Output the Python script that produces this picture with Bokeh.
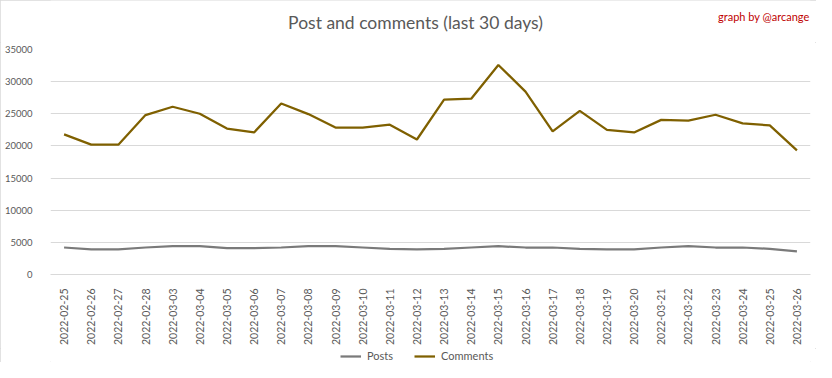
from bokeh.plotting import figure
from bokeh.models import Range1d, FixedTicker, Legend, LegendItem, Label
from bokeh.layouts import column
from bokeh.embed import file_html
from bokeh.resources import INLINE
from math import pi

dates = ["2022-02-25", "2022-02-26", "2022-02-27", "2022-02-28", "2022-03-03",
         "2022-03-04", "2022-03-05", "2022-03-06", "2022-03-07", "2022-03-08",
         "2022-03-09", "2022-03-10", "2022-03-11", "2022-03-12", "2022-03-13",
         "2022-03-14", "2022-03-15", "2022-03-16", "2022-03-17", "2022-03-18",
         "2022-03-19", "2022-03-20", "2022-03-21", "2022-03-22", "2022-03-23",
         "2022-03-24", "2022-03-25", "2022-03-26"]
posts = [4200, 3900, 3900, 4200, 4400, 4400, 4100, 4100, 4200, 4400,
         4400, 4200, 4000, 3900, 4000, 4200, 4400, 4200, 4200, 4000,
         3900, 3900, 4200, 4400, 4200, 4200, 4000, 3600]
comments = [21800, 20200, 20200, 24800, 26100, 25000, 22700, 22100, 26600, 24950,
            22850, 22850, 23300, 21000, 27200, 27350, 32600, 28450, 22250, 25450,
            22500, 22100, 24050, 23950, 24850, 23500, 23200, 19300]
y_ticks = [0, 5000, 10000, 15000, 20000, 25000, 30000, 35000]
series_names = ["Posts", "Comments"]
series_values = [posts, comments]
series_colors = ["#7A7A7A", "#7F6000"]
title_text = "Post and comments (last 30 days)"
credit_text = "graph by @arcange"

FONT = "Lato"
TXT = "#595959"
W = 816
LEFT = 50
RIGHT = 6

# --- header (title + credit); frame is aligned with the chart's frame ---
top = figure(width=W, height=42, x_range=Range1d(LEFT, W - RIGHT), y_range=Range1d(0, 42),
             output_backend="svg", toolbar_location=None,
             min_border_left=LEFT, min_border_right=RIGHT,
             min_border_top=0, min_border_bottom=0)
top.axis.visible = False
top.grid.visible = False
top.outline_line_color = None
top.add_layout(Label(x=415, y=20, text=title_text, text_font=FONT, text_font_size="17.5px",
                     text_color=TXT, text_align="center", text_baseline="middle"))
top.add_layout(Label(x=809, y=26, text=credit_text, text_font=FONT, text_font_size="11px",
                     text_color="#C00000", text_align="right", text_baseline="middle"))

# --- main chart ---
p = figure(width=W, height=306, x_range=dates, y_range=Range1d(0, 35000),
           output_backend="svg", toolbar_location=None,
           min_border_left=LEFT, min_border_right=RIGHT, min_border_top=7, min_border_bottom=73)
p.outline_line_color = None

for vals, col in zip(series_values, series_colors):
    p.line(dates, vals, line_color=col, line_width=2.25)

p.yaxis.ticker = FixedTicker(ticks=y_ticks)
p.yaxis.axis_line_color = None
p.yaxis.major_tick_line_color = None
p.yaxis.minor_tick_line_color = None
p.yaxis.major_label_text_font = FONT
p.yaxis.major_label_text_font_size = "9.5px"
p.yaxis.major_label_text_color = TXT
p.yaxis.major_label_standoff = 12

p.xaxis.axis_line_color = "#D9D9D9"
p.xaxis.major_tick_line_color = None
p.xaxis.minor_tick_line_color = None
p.xaxis.major_label_orientation = pi / 2
p.xaxis.major_label_text_font = FONT
p.xaxis.major_label_text_font_size = "10.5px"
p.xaxis.major_label_text_color = TXT
p.xaxis.major_label_standoff = 8

p.xgrid.grid_line_color = None
p.ygrid.grid_line_color = "#D9D9D9"
p.ygrid.grid_line_width = 1

# --- legend strip (series drawn out of view, only their legend entries show) ---
leg = figure(width=W, height=14, x_range=p.x_range, y_range=Range1d(-2, -1),
             output_backend="svg", toolbar_location=None,
             min_border_left=LEFT, min_border_right=RIGHT,
             min_border_top=0, min_border_bottom=0)
leg.axis.visible = False
leg.grid.visible = False
leg.outline_line_color = None
items = []
for name, vals, col in zip(series_names, series_values, series_colors):
    r = leg.line(dates, vals, line_color=col, line_width=2.25)
    items.append(LegendItem(label=name, renderers=[r]))
legend = Legend(items=items, orientation="horizontal", location=(290, 0),
                label_text_font=FONT, label_text_font_size="11px", label_text_color=TXT,
                glyph_width=21, glyph_height=12, label_height=12,
                label_standoff=6, spacing=21, padding=0, margin=0,
                border_line_color=None, background_fill_alpha=0)
leg.add_layout(legend)

layout = column(top, p, leg, spacing=0)
layout.styles = {"outline": "1px solid #D9D9D9", "outline-offset": "-1px"}

open("out.html", "w").write(file_html(layout, INLINE))
